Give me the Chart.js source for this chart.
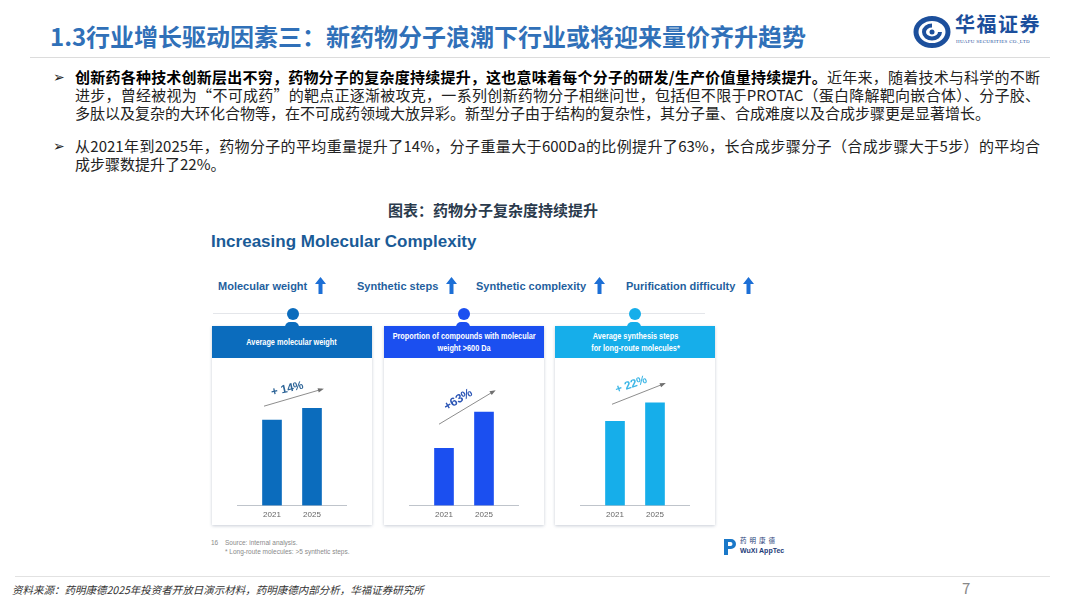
<!DOCTYPE html>
<html>
<head>
<meta charset="utf-8">
<script src="https://cdn.jsdelivr.net/npm/chart.js@4.4.1/dist/chart.umd.min.js"></script>
<style>
  html, body { margin: 0; padding: 0; background: #fff; }
  #slide { position: relative; width: 1080px; height: 608px; overflow: hidden; background: #fff;
           font-family: "Noto Sans CJK SC", "Noto Sans", sans-serif; }
  .abs { position: absolute; }
  .title { left: 50px; top: 18px; font-size: 24px; font-weight: 700; color: #3070b8; line-height: 36px; white-space: nowrap; }
  .rule { height: 1px; background: #dcdcdc; }
  .bullet { font-family: "DejaVu Sans", sans-serif; font-size: 14px; color: #222; line-height: 18px; }
  .para { left: 75px; width: 965px; font-size: 15px; line-height: 18px; color: #222; }
  .para div { white-space: nowrap; height: 18px; }
  .para .j { text-align: justify; text-align-last: justify; }
  .para b { color: #000; }
  .ctitle { left: 493px; top: 199px; transform: translateX(-50%); font-size: 15px; font-weight: 700; color: #2a3a4c; white-space: nowrap; }
  .en { font-family: "Liberation Sans", Arial, sans-serif; }
  .bigen { left: 211px; top: 232px; font-size: 17px; font-weight: 700; color: #1a5b97; white-space: nowrap; }
  .metric { top: 277px; font-size: 11px; font-weight: 700; color: #1f5f9e; white-space: nowrap; display: flex; align-items: center; }
  .metric svg { margin-left: 8px; }
  .tline { left: 213px; top: 313px; width: 492px; height: 1px; background: #e4e6ea; }
  .dot { width: 12px; height: 12px; border-radius: 50%; top: 308px; }
  .notch { width: 14px; height: 5px; top: 322px; border-radius: 7px 7px 0 0; }
  .card { top: 326px; width: 160px; height: 199px; background: #fff; box-shadow: 0 1px 3px rgba(60,80,110,0.28); }
  .card .head { height: 32px; display: flex; align-items: center; justify-content: center; text-align: center;
                color: #fff; font-size: 8.5px; font-weight: 700; line-height: 12px; overflow: visible; }
  .card .head span { display: inline-block; white-space: nowrap; transform: scaleX(0.86); }
  .card canvas { display: block; }
  .fn { font-size: 6.5px; color: #8a8a8a; line-height: 9px; white-space: nowrap; }
  .footer { left: 12px; top: 582px; font-size: 10.5px; font-style: italic; color: #333; white-space: nowrap; }
  .pnum { left: 962px; top: 577px; font-size: 15px; color: #888; }
</style>
</head>
<body>
<div id="slide">
  <div class="abs title">1.3行业增长驱动因素三：新药物分子浪潮下行业或将迎来量价齐升趋势</div>

  <!-- Huafu logo -->
  <svg class="abs" style="left:913px;top:15px" width="38" height="34" viewBox="0 0 38 34">
    <ellipse cx="19" cy="17" rx="16" ry="13.5" fill="none" stroke="#1c4f9c" stroke-width="5"/>
    <path d="M27 17 A8 6.5 0 1 1 19 10.5" fill="none" stroke="#1c4f9c" stroke-width="4"/>
    <circle cx="19" cy="17" r="2.5" fill="#1c4f9c"/>
  </svg>
  <div class="abs" style="left:955px;top:12px;font-size:20px;line-height:24px;font-weight:700;color:#1c4f9c;letter-spacing:1.5px;white-space:nowrap">华福证券</div>
  <div class="abs" style="left:956px;top:39px;font-size:5px;line-height:6px;color:#1c4f9c;font-family:'Liberation Serif',serif;white-space:nowrap;letter-spacing:0.3px">HUAFU SECURITIES CO.,LTD</div>

  <div class="abs rule" style="left:30px;top:57px;width:1020px"></div>

  <div class="abs bullet" style="left:53px;top:68px">➢</div>
  <div class="abs para" style="top:68px">
    <div class="j"><b>创新药各种技术创新层出不穷，药物分子的复杂度持续提升，这也意味着每个分子的研发/生产价值量持续提升。</b>近年来，随着技术与科学的不断</div>
    <div class="j">进步，曾经被视为“不可成药”的靶点正逐渐被攻克，一系列创新药物分子相继问世，包括但不限于PROTAC（蛋白降解靶向嵌合体）、分子胶、</div>
    <div>多肽以及复杂的大环化合物等，在不可成药领域大放异彩。新型分子由于结构的复杂性，其分子量、合成难度以及合成步骤更是显著增长。</div>
  </div>

  <div class="abs bullet" style="left:53px;top:137px">➢</div>
  <div class="abs para" style="top:137px">
    <div class="j">从2021年到2025年，药物分子的平均重量提升了14%，分子重量大于600Da的比例提升了63%，长合成步骤分子（合成步骤大于5步）的平均合</div>
    <div>成步骤数提升了22%。</div>
  </div>

  <div class="abs ctitle">图表：药物分子复杂度持续提升</div>

  <div class="abs en bigen">Increasing Molecular Complexity</div>

  <div class="abs en metric" style="left:218px">Molecular weight<svg width="11" height="17" viewBox="0 0 11 17"><path d="M5.5 0 L11 7 L7.5 7 L7.5 17 L3.5 17 L3.5 7 L0 7 Z" fill="#1c6fd6"/></svg></div>
  <div class="abs en metric" style="left:357px">Synthetic steps<svg width="11" height="17" viewBox="0 0 11 17"><path d="M5.5 0 L11 7 L7.5 7 L7.5 17 L3.5 17 L3.5 7 L0 7 Z" fill="#1c6fd6"/></svg></div>
  <div class="abs en metric" style="left:476px">Synthetic complexity<svg width="11" height="17" viewBox="0 0 11 17"><path d="M5.5 0 L11 7 L7.5 7 L7.5 17 L3.5 17 L3.5 7 L0 7 Z" fill="#1c6fd6"/></svg></div>
  <div class="abs en metric" style="left:626px">Purification difficulty<svg width="11" height="17" viewBox="0 0 11 17"><path d="M5.5 0 L11 7 L7.5 7 L7.5 17 L3.5 17 L3.5 7 L0 7 Z" fill="#1c6fd6"/></svg></div>

  <div class="abs tline"></div>

  <div class="abs card en" style="left:212px">
    <div class="head" style="background:#0b6cbd"><span>Average molecular weight</span></div>
    <canvas id="panel1" width="160" height="167"></canvas>
  </div>
  <div class="abs card en" style="left:384px">
    <div class="head" style="background:#1b4ff0"><span>Proportion of compounds with molecular<br>weight &gt;600 Da</span></div>
    <canvas id="panel2" width="160" height="167"></canvas>
  </div>
  <div class="abs card en" style="left:555px">
    <div class="head" style="background:#16aeea"><span>Average synthesis steps<br>for long-route molecules*</span></div>
    <canvas id="panel3" width="160" height="167"></canvas>
  </div>

  <div class="abs notch" style="left:285px;background:#0b6cbd"></div>
  <div class="abs notch" style="left:456px;background:#1b4ff0"></div>
  <div class="abs notch" style="left:627px;background:#16aeea"></div>
  <div class="abs dot" style="left:287px;background:#0b6cbd"></div>
  <div class="abs dot" style="left:458px;background:#1b4ff0"></div>
  <div class="abs dot" style="left:629px;background:#16aeea"></div>

  <div class="abs en fn" style="left:211px;top:538px">16</div>
  <div class="abs en fn" style="left:225px;top:538px">Source: internal analysis.<br>* Long-route molecules: &gt;5 synthetic steps.</div>

  <!-- WuXi AppTec logo -->
  <svg class="abs" style="left:722px;top:538px" width="16" height="18" viewBox="0 0 16 18">
    <path d="M2 1 H9 A5 5 0 0 1 9 11 H6 V17 H2 Z M6 4 V8 H8.5 A2 2 0 0 0 8.5 4 Z" fill="#1a78c8"/>
  </svg>
  <div class="abs" style="left:740px;top:536px;font-size:6.5px;line-height:9px;color:#1e3c78;letter-spacing:3px;white-space:nowrap">药明康德</div>
  <div class="abs en" style="left:740px;top:546px;font-size:7px;line-height:9px;font-weight:700;color:#1e3c78;white-space:nowrap">WuXi AppTec</div>

  <div class="abs rule" style="left:15px;top:576px;width:1035px;background:#e2e2e2"></div>
  <div class="abs footer">资料来源：药明康德2025年投资者开放日演示材料，药明康德内部分析，华福证券研究所</div>
  <div class="abs pnum">7</div>
</div>

<script>
// values indexed to 2021 = 100
const years = ["2021", "2025"];
const avgMolecularWeight = [100, 114];
const shareAbove600Da = [100, 163];
const longRouteSteps = [100, 122];
const growthLabels = ["+ 14%", "+63%", "+ 22%"];

// axis line under the bars, a bit wider than the plot area
const baselinePlugin = {
  id: "baseline",
  beforeDatasetsDraw(chart) {
    const { ctx, chartArea } = chart;
    const y = Math.round(chart.scales.y.getPixelForValue(0)) + 0.5;
    ctx.save();
    ctx.strokeStyle = "#bfc4cb";
    ctx.lineWidth = 1;
    ctx.beginPath();
    ctx.moveTo(chartArea.left - 15, y);
    ctx.lineTo(chartArea.right + 15, y);
    ctx.stroke();
    ctx.restore();
  }
};

// slanted growth arrow with its label, anchored on the two bar tops
function growthArrow(cfg) {
  return {
    id: "growthArrow",
    afterDatasetsDraw(chart) {
      const { ctx } = chart;
      const bars = chart.getDatasetMeta(0).data;
      const x0 = bars[0].x + cfg.dx0, y0 = bars[0].y - cfg.dy0;
      const x1 = bars[1].x + cfg.dx1, y1 = bars[1].y - cfg.dy1;
      const a = Math.atan2(y1 - y0, x1 - x0);

      ctx.save();
      ctx.strokeStyle = "#707070";
      ctx.fillStyle = "#707070";
      ctx.lineWidth = 0.8;
      ctx.beginPath();
      ctx.moveTo(x0, y0);
      ctx.lineTo(x1, y1);
      ctx.stroke();
      ctx.beginPath();
      ctx.moveTo(x1 + Math.cos(a) * 2, y1 + Math.sin(a) * 2);
      ctx.lineTo(x1 - Math.cos(a) * 4 + Math.sin(a) * 2.2, y1 - Math.sin(a) * 4 - Math.cos(a) * 2.2);
      ctx.lineTo(x1 - Math.cos(a) * 4 - Math.sin(a) * 2.2, y1 - Math.sin(a) * 4 + Math.cos(a) * 2.2);
      ctx.closePath();
      ctx.fill();

      const mx = (x0 + x1) / 2 + Math.sin(a) * cfg.lift - Math.cos(a) * 3;
      const my = (y0 + y1) / 2 - Math.cos(a) * cfg.lift - Math.sin(a) * 3;
      ctx.translate(mx, my);
      ctx.rotate(a * cfg.tilt);
      ctx.fillStyle = cfg.color;
      ctx.font = "bold " + cfg.size + "px 'Liberation Sans', Arial, sans-serif";
      ctx.textAlign = "center";
      ctx.textBaseline = "middle";
      ctx.fillText(cfg.text, 0, 0);
      ctx.restore();
    }
  };
}

function makePanel(id, values, yMax, color, arrowCfg) {
  new Chart(document.getElementById(id), {
    type: "bar",
    data: {
      labels: years,
      datasets: [{ data: values, backgroundColor: color, barThickness: 19 }]
    },
    options: {
      responsive: false,
      animation: false,
      layout: { padding: { left: 40, right: 40, top: 17, bottom: 0 } },
      plugins: { legend: { display: false }, tooltip: { enabled: false } },
      scales: {
        x: {
          grid: { display: false, drawTicks: false },
          border: { display: false },
          ticks: { color: "#666", padding: 5, maxRotation: 0, minRotation: 0,
                   font: { size: 8, family: "'Liberation Sans', Arial, sans-serif" } }
        },
        y: { display: false, min: 0, max: yMax }
      }
    },
    plugins: [baselinePlugin, growthArrow(arrowCfg)]
  });
}

makePanel("panel1", avgMolecularWeight, 153, "#0b6cbd",
  { text: growthLabels[0], color: "#2d6497", size: 11.5, dx0: -8, dy0: 14, dx1: 10, dy1: 19, lift: 10, tilt: 0.8 });
makePanel("panel2", shareAbove600Da, 228, "#1b4ff0",
  { text: growthLabels[1], color: "#2b55b5", size: 12, dx0: -5, dy0: 24, dx1: 10, dy1: 21, lift: 11, tilt: 1 });
makePanel("panel3", longRouteSteps, 155, "#16aeea",
  { text: growthLabels[2], color: "#3db6e6", size: 11.5, dx0: -3, dy0: 17, dx1: 9, dy1: 19, lift: 11, tilt: 0.9 });
</script>
</body>
</html>
